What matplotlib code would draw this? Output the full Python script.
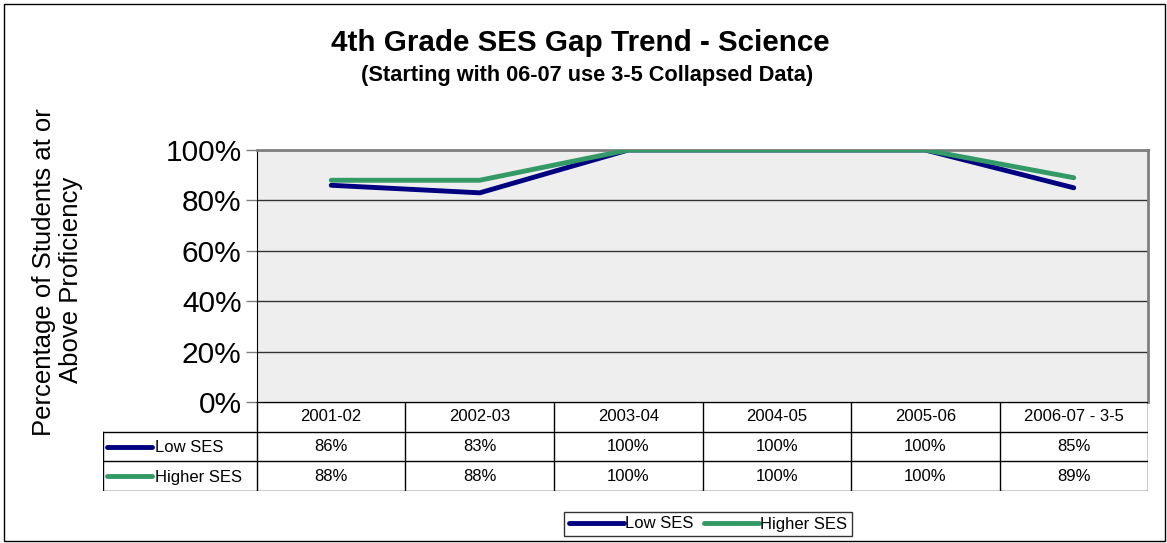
import numpy as np
import matplotlib.pyplot as plt
from matplotlib.lines import Line2D
from matplotlib.patches import Rectangle

plt.rcParams['font.family'] = ['Liberation Sans', 'DejaVu Sans']

# --- data ---
years = ["2001-02", "2002-03", "2003-04", "2004-05", "2005-06", "2006-07 - 3-5"]
low_ses = [86, 83, 100, 100, 100, 85]
higher_ses = [88, 88, 100, 100, 100, 89]
series_names = ["Low SES", "Higher SES"]
series_colors = ["#000080", "#339966"]

W, H = 1167, 543
fig = plt.figure(figsize=(W / 100, H / 100), dpi=100)

def fx(px):
    return px / W

def fy(py):
    return 1 - py / H

# outer border
fig.patches.append(Rectangle((fx(4), fy(541)), fx(1161), 537 / H, transform=fig.transFigure,
                             fill=False, edgecolor='black', lw=1))

# plot area
x0, x1, ytop, ybot = 257, 1148, 150, 402
ax = fig.add_axes([fx(x0), fy(ybot), fx(x1 - x0), (ybot - ytop) / H])
ax.set_facecolor('#EEEEEE')
n = len(years)
xs = np.arange(n) + 0.5
all_series = [low_ses, higher_ses]
for vals, col in zip(all_series, series_colors):
    ax.plot(xs, vals, color=col, lw=3.5, solid_capstyle='round', zorder=3)
ax.set_xlim(0, n)
ax.set_ylim(0, 100)
ax.set_yticks(np.arange(0, 101, 20))
ax.set_yticklabels([f"{v}%" for v in range(0, 101, 20)], fontsize=21.5)
ax.set_xticks([])
ax.grid(axis='y', color='#333333', lw=1)
ax.tick_params(axis='y', direction='out', length=8, width=1, pad=3, colors='#808080', labelcolor='black')
for s in ['top', 'right']:
    ax.spines[s].set_color('#808080')
    ax.spines[s].set_linewidth(2)
ax.spines['left'].set_color('black')
ax.spines['bottom'].set_visible(False)
ax.set_axisbelow(True)

# y label
fig.text(fx(44), fy(272), "Percentage of Students at or", rotation=90, ha='center', va='center', fontsize=18.5)
fig.text(fx(71), fy(280), "Above Proficiency", rotation=90, ha='center', va='center', fontsize=18.5)

# titles
fig.text(fx(580), fy(43), "4th Grade SES Gap Trend - Science", ha='center', va='center',
         fontsize=21.3, fontweight='bold')
fig.text(fx(587), fy(75), "(Starting with 06-07 use 3-5 Collapsed Data)", ha='center', va='center',
         fontsize=15.7, fontweight='bold')

# data table
tx0, trow0, trow3 = 103, 402, 491
tax = fig.add_axes([fx(tx0), fy(trow3), fx(x1 - tx0), (trow3 - trow0) / H])
tax.set_xlim(-(x0 - tx0) / ((x1 - x0) / n), n)
tax.set_ylim(3, 0)
tax.axis('off')
lab_left = tax.get_xlim()[0]
lc = 'black'
tax.plot([0, n], [0, 0], color=lc, lw=1)
for r in [1, 2, 3]:
    tax.plot([lab_left, n], [r, r], color=lc, lw=1)
tax.plot([lab_left, lab_left], [1, 3], color=lc, lw=1)
for c in range(n + 1):
    tax.plot([c, c], [0, 3], color=lc, lw=1)
for i, yr in enumerate(years):
    tax.text(i + 0.5, 0.5, yr, ha='center', va='center', fontsize=12)
for r, (vals, name, col) in enumerate(zip(all_series, series_names, series_colors)):
    for i, v in enumerate(vals):
        tax.text(i + 0.5, r + 1.5, f"{v}%", ha='center', va='center', fontsize=12)
    tax.plot([lab_left + 0.03, lab_left + 0.33], [r + 1.5, r + 1.5], color=col, lw=3.5,
             solid_capstyle='round')
    tax.text(lab_left + 0.35, r + 1.55, name, ha='left', va='center', fontsize=12)

# legend
handles = [Line2D([], [], color=c, lw=3.5, solid_capstyle='round') for c in series_colors]
leg = fig.legend(handles, series_names, loc='center', bbox_to_anchor=(fx(708), fy(524)),
                 ncol=2, fontsize=12, frameon=True, fancybox=False, handlelength=3.3,
                 handletextpad=0.1, columnspacing=0.6, borderpad=0.25, borderaxespad=0)
leg.get_frame().set_edgecolor('black')
leg.get_frame().set_linewidth(1)

fig.savefig("out.png", dpi=100)
